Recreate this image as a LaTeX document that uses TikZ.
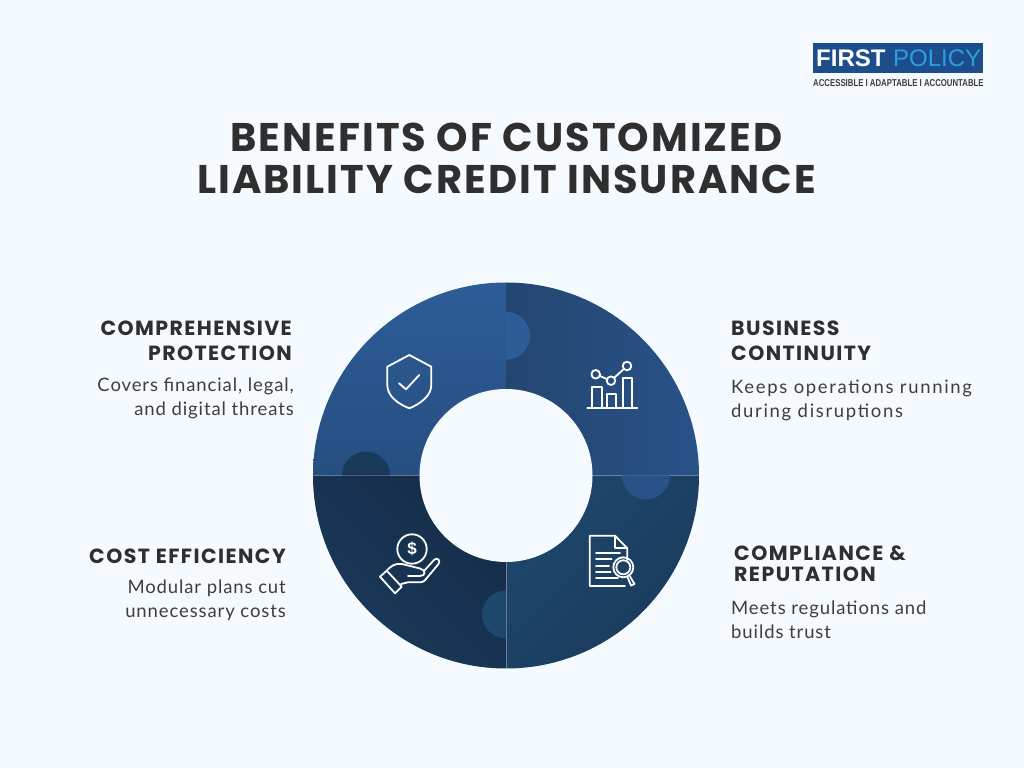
\documentclass[tikz,border=0pt]{standalone}
\usepackage{fontspec}
\setmainfont{Lato}
\newfontfamily\bodyfont[LetterSpace=4.8]{Lato}
\newfontfamily\widebodyfont[LetterSpace=9]{Lato}
\newfontfamily\headfont[LetterSpace=7]{Poppins}
\newfontfamily\titlefont[LetterSpace=5.1]{Poppins}
\newfontfamily\logofont{Liberation Sans}
\newfontfamily\tagfont[FakeStretch=0.78]{Liberation Sans}
\definecolor{pagebg}{HTML}{F4FAFE}
\definecolor{inktext}{HTML}{2F2F2F}
\definecolor{bodytext}{HTML}{3E3E3E}
\definecolor{tlblue}{HTML}{2D5C97}
\definecolor{tlblueb}{HTML}{254F80}
\definecolor{trblue}{HTML}{295287}
\definecolor{trdark}{HTML}{234670}
\definecolor{brblue}{HTML}{1E476C}
\definecolor{brdark}{HTML}{1A3A5C}
\definecolor{blblue}{HTML}{1A3A5A}
\definecolor{bldark}{HTML}{152C48}
\definecolor{logoblue}{HTML}{1E4D8C}
\definecolor{logosky}{HTML}{2A9FE0}
\tikzset{
  headnode/.style={inner sep=0pt,text=inktext,font=\headfont\bfseries\fontsize{20.5}{25}\selectfont},
  bodynode/.style={inner sep=0pt,text=bodytext,font=\bodyfont\fontsize{18.5}{24}\selectfont},
  icon/.style={draw=white,line width=1.8pt,line join=round,line cap=round},
  seam/.style={draw=white,opacity=0.15,line width=0.5pt}
}
\begin{document}
\begin{tikzpicture}[x=1pt,y=1pt]
\useasboundingbox (0,0) rectangle (1024,768);
\fill[pagebg] (0,0) rectangle (1024,768);
\coordinate (ctr) at (506,292.5);
\shade[top color=tlblue,middle color=tlblue,bottom color=tlblueb] (ctr) -- ++(180:193) arc (180:90:193) -- cycle;
\shade[left color=trdark,middle color=trblue,right color=trblue] (ctr) -- ++(90:193) arc (90:0:193) -- cycle;
\shade[left color=brblue,middle color=brblue,right color=brdark,shading angle=45] (ctr) -- ++(0:193) arc (0:-90:193) -- cycle;
\shade[left color=blblue,middle color=blblue,right color=bldark,shading angle=135] (ctr) -- ++(-90:193) arc (-90:-180:193) -- cycle;
\draw[seam] (ctr) ++(180:193) -- ++(386,0);
\draw[seam,opacity=0.35] (ctr) -- ++(0,-193);
\fill[tlblue] (506,456.3) arc (90:-90:24) -- cycle;
\fill[trblue] (622,292.5) arc (180:360:24) -- cycle;
\fill[brblue] (506,129.7) arc (-90:-270:24) -- cycle;
\fill[blblue] (342,292.5) arc (180:0:24) -- cycle;
\fill[pagebg] (ctr) circle (86.5);
\begin{scope}[y=-1pt,yshift=768pt]
\node[inner sep=0pt,text=inktext,font=\titlefont\bfseries\fontsize{40}{41.5}\selectfont,align=center,anchor=north] (title) at (506.5,123) {BENEFITS OF CUSTOMIZED\\LIABILITY CREDIT INSURANCE};
\node[headnode,align=right,anchor=north east] (protecthead) at (292,321) {COMPREHENSIVE\\PROTECTION};
\node[bodynode,align=right,anchor=north east] (protectbody) at (294,378) {Covers financial, legal,\\and digital threats};
\node[headnode,align=left,anchor=north west] (continuityhead) at (731,321) {BUSINESS\\CONTINUITY};
\node[bodynode,align=left,anchor=north west,font=\widebodyfont\fontsize{18.5}{24}\selectfont] (continuitybody) at (731,380) {Keeps operations running\\during disruptions};
\node[headnode,align=right,anchor=north east] (costhead) at (286,549) {COST EFFICIENCY};
\node[bodynode,align=right,anchor=north east] (costbody) at (286,580) {Modular plans cut\\unnecessary costs};
\node[headnode,align=left,anchor=north west,font=\headfont\bfseries\fontsize{20.5}{21}\selectfont] (compliancehead) at (734,546) {COMPLIANCE \&\\REPUTATION};
\node[bodynode,align=left,anchor=north west] (compliancebody) at (731,601) {Meets regulations and\\builds trust};
\fill[logoblue] (813,43) rectangle (983,73);
\node[inner sep=0pt,anchor=base west,text=white,font=\logofont\bfseries\fontsize{24}{24}\selectfont] (logofirst) at (816,67) {FIRST};
\node[inner sep=0pt,anchor=base west,text=logosky,font=\logofont\fontsize{24}{24}\selectfont] (logopolicy) at (893,67) {POLICY};
\node[inner sep=0pt,anchor=base west,text=bodytext,font=\tagfont\bfseries\fontsize{10}{10}\selectfont] (logotag) at (813,87) {ACCESSIBLE I ADAPTABLE I ACCOUNTABLE};
\draw[icon] (409.3,355) -- (431.3,366.7) -- (431.3,385) .. controls (431.3,396) and (420,404) .. (409.3,408.3) .. controls (398,404) and (387.3,396) .. (387.3,385) -- (387.3,366.7) -- cycle;
\draw[icon] (399,383.3) -- (406,389.3) -- (419.3,375);
\draw[icon] (587.3,407.7) -- (637.3,407.7);
\draw[icon] (591.7,407.7) -- (591.7,386.7) -- (601.7,386.7) -- (601.7,407.7);
\draw[icon] (607,407.7) -- (607,394) -- (615.7,394) -- (615.7,407.7);
\draw[icon] (623.3,407.7) -- (623.3,378.3) -- (631.7,378.3) -- (631.7,407.7);
\draw[icon] (595.7,374.3) circle[radius=4.3];
\draw[icon] (611,380.7) circle[radius=4.3];
\draw[icon] (627,366) circle[radius=4.3];
\draw[icon] (599.8,375.9) -- (606.9,379.1);
\draw[icon] (614.2,377.8) -- (623.8,369);
\draw[icon] (627.3,560) -- (627.3,548.3) -- (615,535.7) -- (589.7,535.7) -- (589.7,586) -- (625,586);
\draw[icon] (615,535.7) -- (615,548.3) -- (627.3,548.3);
\draw[icon] (596,553.3) -- (620,553.3);
\draw[icon] (596,559.3) -- (611.7,559.3);
\draw[icon] (596,565.7) -- (609,565.7);
\draw[icon] (596,571.7) -- (610.7,571.7);
\draw[icon] (596,578.3) -- (618,578.3);
\draw[icon] (623.3,567.3) circle[radius=10];
\draw[icon] (623.3,567.3) circle[radius=7];
\draw[icon] (627.3,576.7) -- (631,585.5) -- (634.5,584) -- (630,576.5);
\draw[icon] (412,549) circle[radius=14.7];
\node[inner sep=0pt,text=white,font=\logofont\bfseries\fontsize{17}{17}\selectfont] (coinsign) at (412,549) {\$};
\draw[icon] (380,576.7) -- (386.7,570.7) -- (401.7,586.7) -- (395,593.3) -- cycle;
\draw[icon] (386.7,570.7) .. controls (391,566) and (395,563) .. (402,564) -- (420,568.5) .. controls (426,570) and (426,576) .. (420,576) -- (408,576);
\draw[icon] (424,571) -- (434,560) .. controls (437,557) and (441,560) .. (438.5,564) -- (426,579) .. controls (424,582) and (422,582.3) .. (418,582.3) -- (408,582.3) -- (401,584);
\end{scope}
\end{tikzpicture}
\end{document}
